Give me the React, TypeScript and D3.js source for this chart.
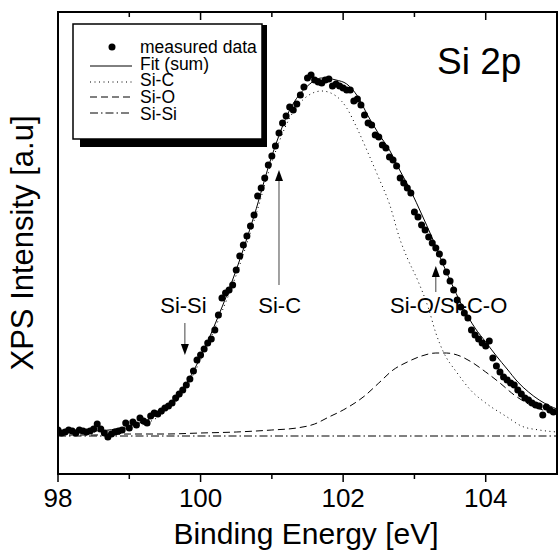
import React from "react";
import * as d3 from "d3";

// ---- data (binding energy in eV, intensity in arbitrary units) ----
const measuredEnergy = [
  98.0, 98.05, 98.1, 98.15, 98.2, 98.25, 98.3, 98.35, 98.4, 98.45, 98.5, 98.55, 98.6, 98.65, 98.7, 98.75, 98.8, 98.85, 98.9, 98.95,
  99.0, 99.05, 99.1, 99.15, 99.2, 99.25, 99.3, 99.35, 99.4, 99.45, 99.5, 99.55, 99.6, 99.65, 99.7, 99.75, 99.8, 99.85, 99.9, 99.95,
  100.0, 100.05, 100.1, 100.15, 100.2, 100.25, 100.3, 100.35, 100.4, 100.45, 100.5, 100.55, 100.6, 100.65, 100.7, 100.75, 100.8, 100.85, 100.9, 100.95,
  101.0, 101.05, 101.1, 101.15, 101.2, 101.25, 101.3, 101.35, 101.4, 101.45, 101.5, 101.55, 101.6, 101.65, 101.7, 101.75, 101.8, 101.85, 101.9, 101.95,
  102.0, 102.05, 102.1, 102.15, 102.2, 102.25, 102.3, 102.35, 102.4, 102.45, 102.5, 102.55, 102.6, 102.65, 102.7, 102.75, 102.8, 102.85, 102.9, 102.95,
  103.0, 103.05, 103.1, 103.15, 103.2, 103.25, 103.3, 103.35, 103.4, 103.45, 103.5, 103.55, 103.6, 103.65, 103.7, 103.75, 103.8, 103.85, 103.9, 103.95,
  104.0, 104.05, 104.1, 104.15, 104.2, 104.25, 104.3, 104.35, 104.4, 104.45, 104.5, 104.55, 104.6, 104.65, 104.7, 104.75, 104.8, 104.85, 104.9, 104.95,
];
const measuredIntensity = [
  6, 3, 4, 6, 5, 3, 6, 5, 4, 5, 7, 12, 7, 3, -1, 2, 4, 5, 6, 13,
  8, 14, 11, 18, 15, 13, 20, 23, 22, 25, 28, 30, 33, 38, 42, 46, 51, 57, 65, 76,
  81, 87, 93, 97, 106, 121, 138, 143, 146, 151, 166, 180, 191, 200, 210, 221, 240, 248, 258, 271,
  280, 290, 303, 313, 320, 329, 326, 332, 341, 349, 358, 361, 356, 354, 353, 356, 357, 350, 352, 350,
  348, 346, 346, 335, 337, 331, 321, 313, 311, 301, 299, 291, 288, 279, 276, 270, 258, 253, 248, 243,
  224, 219, 211, 206, 199, 193, 188, 182, 174, 164, 155, 146, 136, 129, 123, 118, 106, 101, 97, 93,
  90, 95, 78, 70, 64, 59, 56, 53, 51, 46, 42, 38, 36, 33, 31, 30, 21, 29, 26, 24,
];

const fitEnergy = [98.0, 98.5, 99.0, 99.25, 99.5, 99.75, 100.0, 100.25, 100.5, 100.75, 101.0, 101.25, 101.5, 101.7, 101.9, 102.05, 102.2, 102.35, 102.5, 102.65, 102.8, 102.95, 103.1, 103.25, 103.4, 103.55, 103.7, 103.85, 104.0, 104.15, 104.3, 104.45, 104.6, 104.75, 104.9, 105.0];
const fitValues = [5, 5, 10, 16, 27, 47, 79, 120, 166, 220, 280, 326, 350, 358, 356, 352, 340, 320, 302, 286, 265, 245, 222, 198, 172, 148, 126, 108, 94, 80, 67, 54, 44, 36, 30, 27];

const siCEnergy = [98.0, 98.5, 99.0, 99.25, 99.5, 99.75, 100.0, 100.25, 100.5, 100.75, 101.0, 101.25, 101.5, 101.7, 101.9, 102.05, 102.2, 102.35, 102.5, 102.65, 102.8, 102.9, 103.05, 103.2, 103.3, 103.4, 103.6, 103.8, 104.0, 104.3, 104.5, 104.75, 105.0];
const siCValues = [3, 4, 8, 13, 24, 43, 76, 116, 161, 215, 274, 318, 340, 345, 340, 328, 307, 283, 258, 232, 196, 178, 155, 127, 103, 85, 63, 45, 33, 19, 10, 6, 4];

const siOEnergy = [98.0, 98.5, 99.0, 99.5, 100.0, 100.5, 101.0, 101.35, 101.6, 101.8, 102.0, 102.3, 102.5, 102.7, 102.9, 103.1, 103.3, 103.45, 103.6, 103.8, 104.0, 104.2, 104.4, 104.6, 104.8, 105.0];
const siOValues = [1, 1, 2, 2, 3, 4, 6, 8, 12, 19, 26, 40, 53, 66, 74, 80, 83, 83, 81, 74, 64, 53, 41, 32, 26, 21];

const siSiEnergy = [98.0, 105.0];
const siSiValues = [0, 0];

const majorTicks = [98, 100, 102, 104];
const minorTicks = [99, 101, 103];

const legendLabels = ["measured data", "Fit (sum)", "Si-C", "Si-O", "Si-Si"];
const legendStyles = ["dot", "solid", "dotted", "dashed", "dashdot"];

const annotationLabels = ["Si-Si", "Si-C", "Si-O/Si-C-O"];
const annotationTextE = [99.76, 101.11, 103.48];
const annotationArrowE = [99.78, 101.1, 103.3];
const annotationFromI = [113, 151, 144];
const annotationToI = [81, 266, 170];
const annotationTextI = [123, 123, 123];

const FONT = "'Liberation Sans', Arial, Helvetica, sans-serif";

const dashFor: Record<string, string | undefined> = {
  solid: undefined,
  dotted: "1,3.5",
  dashed: "7,4",
  dashdot: "8,3,1.5,3",
};

export default function App() {
  const W = 559, H = 552;
  const left = 58, right = 557, top = 12, bottom = 474;
  const x = d3.scaleLinear().domain([98, 105]).range([left, right]);
  const y = d3.scaleLinear().domain([-38, 424]).range([bottom, top]);

  const mk = (es: number[], vs: number[]) =>
    d3.line<number>().x((_, i) => x(es[i])).y((v) => y(v)).curve(d3.curveMonotoneX)(vs) || "";

  const measured = measuredEnergy.map((e, i) => ({ e, v: measuredIntensity[i] }));

  const legendX = 73, legendY = 24, legendW = 189, legendH = 115;
  const rowY = [47, 66, 82, 97, 113];
  const textBase = [53, 69.5, 86, 103, 119.5];

  return (
    <svg width={W} height={H} style={{ position: "absolute", left: 0, top: 0, background: "#fff" }} fontFamily={FONT}>
      <rect x={0} y={0} width={W} height={H} fill="#fff" />
      <defs>
        <clipPath id="plotclip">
          <rect x={left} y={top} width={right - left} height={bottom - top} />
        </clipPath>
      </defs>

      {/* curves */}
      <g clipPath="url(#plotclip)" fill="none" stroke="#000">
        <path d={mk(siSiEnergy, siSiValues)} strokeWidth={1} strokeDasharray={dashFor.dashdot} />
        <path d={mk(siOEnergy, siOValues)} strokeWidth={1} strokeDasharray={dashFor.dashed} />
        <path d={mk(siCEnergy, siCValues)} strokeWidth={1} strokeDasharray={dashFor.dotted} />
        <path d={mk(fitEnergy, fitValues)} strokeWidth={1} />
      </g>

      {/* measured data */}
      <g clipPath="url(#plotclip)">
        {measured.map((d, i) => (
          <circle key={i} cx={x(d.e)} cy={y(d.v)} r={3.5} fill="#000" />
        ))}
      </g>

      {/* annotations */}
      {annotationLabels.map((lab, i) => {
        const ax = x(annotationArrowE[i]);
        const y1 = y(annotationFromI[i]);
        const y2 = y(annotationToI[i]);
        const dir = y2 > y1 ? 1 : -1;
        const headLen = 11, headW = 4;
        return (
          <g key={lab}>
            <line x1={ax} y1={y1} x2={ax} y2={y2 - dir * headLen} stroke="#444" strokeWidth={1} />
            <path
              d={`M${ax},${y2} L${ax - headW},${y2 - dir * headLen} L${ax + headW},${y2 - dir * headLen} Z`}
              fill="#000"
            />
            <text x={x(annotationTextE[i])} y={y(annotationTextI[i])} fontSize={22} textAnchor="middle" fill="#000">
              {lab}
            </text>
          </g>
        );
      })}

      {/* Si 2p label */}
      <text x={437} y={74} fontSize={37} fill="#000">Si 2p</text>

      {/* frame */}
      <rect x={left} y={top} width={right - left} height={bottom - top} fill="none" stroke="#000" strokeWidth={2} />

      {/* ticks bottom (outward) and top (inward) */}
      {majorTicks.map((t) => (
        <g key={"M" + t}>
          <line x1={x(t)} x2={x(t)} y1={bottom} y2={bottom + 8} stroke="#000" strokeWidth={1.5} />
          <line x1={x(t)} x2={x(t)} y1={top} y2={top + 8} stroke="#000" strokeWidth={1.5} />
          <text x={x(t)} y={507} fontSize={26} textAnchor="middle" fill="#000">{t}</text>
        </g>
      ))}
      {minorTicks.map((t) => (
        <g key={"m" + t}>
          <line x1={x(t)} x2={x(t)} y1={bottom} y2={bottom + 5} stroke="#000" strokeWidth={1.5} />
          <line x1={x(t)} x2={x(t)} y1={top} y2={top + 5} stroke="#000" strokeWidth={1.5} />
        </g>
      ))}

      {/* axis titles */}
      <text x={306} y={544} fontSize={30} textAnchor="middle" fill="#000">Binding Energy [eV]</text>
      <text transform={`translate(33, ${(top + bottom) / 2}) rotate(-90)`} fontSize={31} textAnchor="middle" fill="#000">
        XPS Intensity [a.u]
      </text>

      {/* legend */}
      <rect x={legendX + legendW} y={legendY + 1} width={5} height={legendH + 7} fill="#000" />
      <rect x={legendX + 7} y={legendY + legendH} width={legendW - 2} height={8} fill="#000" />
      <rect x={legendX} y={legendY} width={legendW} height={legendH} fill="#fff" stroke="#000" strokeWidth={1.5} />
      {legendLabels.map((lab, i) => (
        <g key={lab}>
          {legendStyles[i] === "dot" ? (
            <circle cx={112} cy={rowY[i]} r={3.5} fill="#000" />
          ) : (
            <line x1={90} x2={132} y1={rowY[i]} y2={rowY[i]} stroke="#000" strokeWidth={1} strokeDasharray={dashFor[legendStyles[i]]} />
          )}
          <text x={140} y={textBase[i]} fontSize={17.5} fill="#000">{lab}</text>
        </g>
      ))}
    </svg>
  );
}
